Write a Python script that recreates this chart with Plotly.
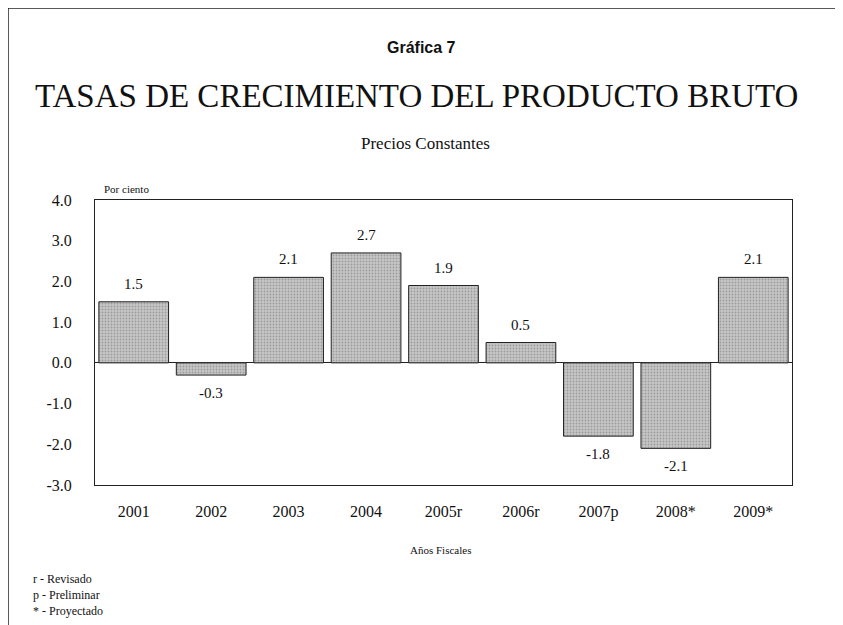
import plotly.graph_objects as go

years = ["2001", "2002", "2003", "2004", "2005r", "2006r", "2007p", "2008*", "2009*"]
growth = [1.5, -0.3, 2.1, 2.7, 1.9, 0.5, -1.8, -2.1, 2.1]
y_ticks = [4.0, 3.0, 2.0, 1.0, 0.0, -1.0, -2.0, -3.0]
notes = ["r - Revisado", "p - Preliminar", "* - Proyectado"]

serif = "Palatino Linotype, Book Antiqua, Liberation Serif, serif"

# the page body adds an 8px offset, so the figure is drawn 8px smaller
W, H = 835, 617
L, R, T, B = 87, 51, 192, 140

fig = go.Figure()
fig.add_trace(go.Bar(
    x=years, y=growth,
    marker=dict(color="#bdbdbd", line=dict(color="#222", width=1),
                pattern=dict(shape=".", fgcolor="#6f6f6f", bgcolor="#c6c6c6",
                             size=3, solidity=0.3)),
    showlegend=False,
))

# value labels, a bit away from the bar ends (x = category index)
for i, v in enumerate(growth):
    fig.add_annotation(x=i, y=v, text=f"{v:.1f}", showarrow=False,
                       yshift=18 if v >= 0 else -18, yanchor="middle",
                       font=dict(family=serif, size=15, color="#111"))

fig.update_layout(
    width=W, height=H,
    margin=dict(l=L, r=R, t=T, b=B),
    paper_bgcolor="white", plot_bgcolor="white",
    bargap=0.1,
    font=dict(family=serif, color="#111"),
    xaxis=dict(type="category", showline=True, linecolor="#222", linewidth=1, mirror=True,
               tickfont=dict(family=serif, size=16), ticks="", ticklabelstandoff=12,
               showgrid=False),
    yaxis=dict(range=[-3, 4], tickvals=y_ticks, ticktext=[f"{v:.1f}" for v in y_ticks],
               showline=True, linecolor="#222", linewidth=1, mirror=True,
               tickfont=dict(family=serif, size=16), ticks="", ticklabelstandoff=19,
               showgrid=False, zeroline=True, zerolinecolor="#222", zerolinewidth=1),
)

pw, ph = W - L - R, H - T - B

# reference pixel positions -> paper coords
def px(x):
    return (x - 8 - L) / pw

def py(y):
    return (H - B - (y - 8)) / ph

def note(text, x, y, size, family=serif, anchor="center"):
    fig.add_annotation(text=text, x=px(x), y=py(y), xref="paper", yref="paper",
                       xanchor=anchor, yanchor="middle", showarrow=False,
                       font=dict(family=family, size=size, color="#111"))

note("<b>Gráfica 7</b>", 421, 48, 16, family="Liberation Sans, Arial")
note("TASAS DE CRECIMIENTO DEL PRODUCTO BRUTO", 416, 96, 33)
note("Precios Constantes", 425, 143, 17)
note("Por ciento", 102, 189, 11, anchor="left")
note("Años Fiscales", 440, 550, 11)
for i, n in enumerate(notes):
    note(n, 31, 579 + i * 16, 12, anchor="left")

# page frame (left and top edges)
fig.add_shape(type="line", xref="paper", yref="paper", x0=px(8), x1=px(8), y0=py(8), y1=py(640),
              line=dict(color="#222", width=1.5))
fig.add_shape(type="line", xref="paper", yref="paper", x0=px(8), x1=px(843), y0=py(8), y1=py(8),
              line=dict(color="#222", width=1.5))

fig.write_html("out.html")
